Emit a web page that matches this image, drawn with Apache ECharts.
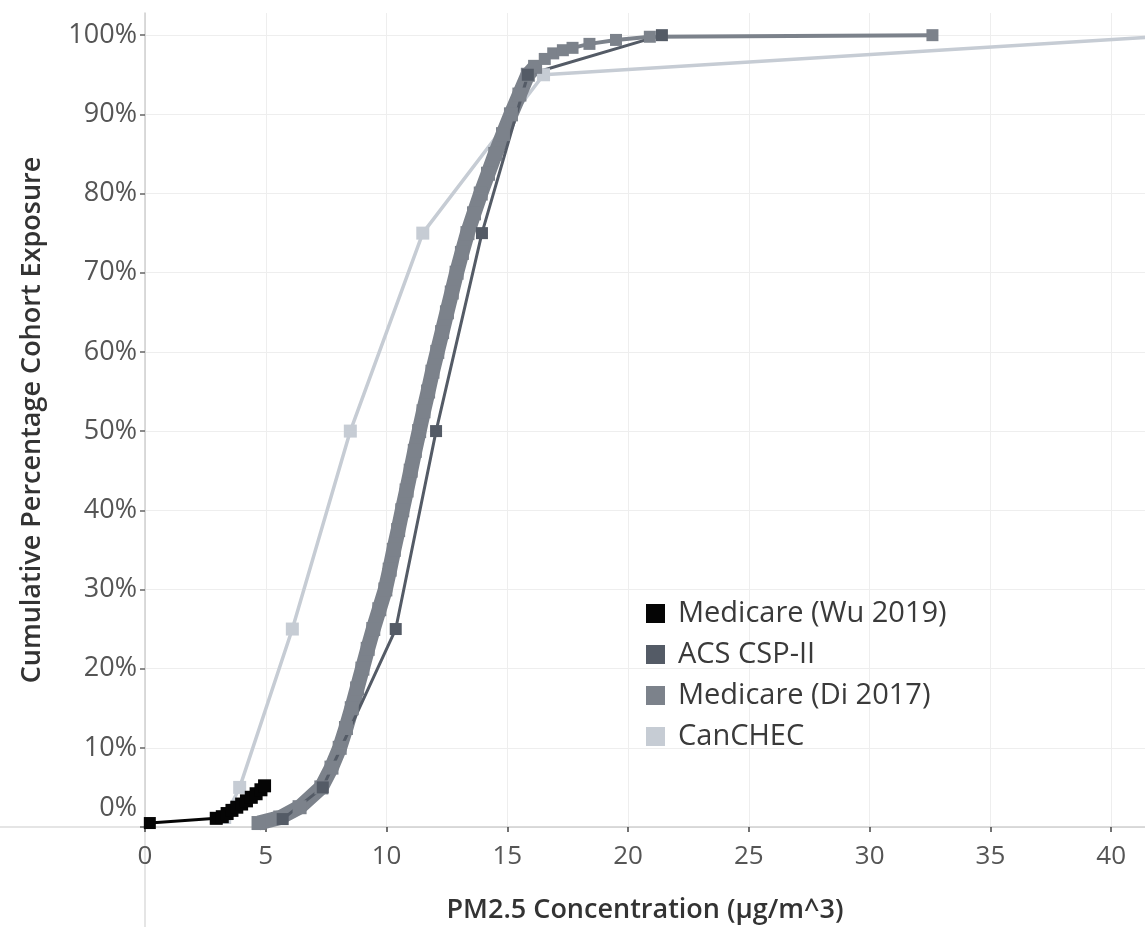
<!DOCTYPE html>
<html>
<head>
<meta charset="utf-8">
<title>Cumulative cohort exposure</title>
<script src="https://cdn.jsdelivr.net/npm/echarts@6/dist/echarts.min.js"></script>
<style>
  html, body { margin: 0; padding: 0; background: #fff; }
  #chart { width: 1145px; height: 927px; }
</style>
</head>
<body>
<div id="chart"></div>
<script>
// PM2.5 (x) and cumulative percent (y) for each cohort
const wuX = [0.2, 2.95, 3.2, 3.4, 3.6, 3.8, 4.0, 4.2, 4.4, 4.6, 4.8, 4.95];
const wuY = [0.5, 1.1, 1.3, 1.7, 2.1, 2.5, 2.9, 3.3, 3.75, 4.2, 4.7, 5.2];

const acsX = [5.7, 7.36, 10.38, 12.05, 13.95, 15.85, 21.4];
const acsY = [1.0, 5, 25, 50, 75, 95, 100];

// Di 2017: dense band part and upper tail
const diX = [4.7, 5.6, 6.4, 7.3, 7.72, 8.06, 8.32, 8.56, 8.78, 9.0, 9.22, 9.45, 9.7, 9.95,
  10.13, 10.3, 10.48, 10.65, 10.83, 11.0, 11.17, 11.35, 11.53, 11.72, 11.9, 12.1, 12.3,
  12.5, 12.7, 12.9, 13.12, 13.35, 13.62, 13.9, 14.2, 14.5, 14.82, 15.15, 15.5, 15.85, 16.15];
const diY = [0.5, 1.2, 2.5, 5, 7.5, 10, 12.5, 15, 17.5, 20, 22.5, 25, 27.5, 30,
  32.5, 35, 37.5, 40, 42.5, 45, 47.5, 50, 52.5, 55, 57.5, 60, 62.5,
  65, 67.5, 70, 72.5, 75, 77.5, 80, 82.5, 85, 87.5, 90, 92.5, 95, 96];
const diTailX = [15.85, 16.15, 16.55, 16.9, 17.3, 17.7, 18.4, 19.5, 20.9, 32.6];
const diTailY = [95, 96, 97, 97.7, 98.1, 98.4, 98.9, 99.4, 99.8, 100];

const canX = [3.3, 3.92, 6.1, 8.5, 11.5, 16.5, 43];
const canY = [1.2, 5, 25, 50, 75, 95, 100];

const legendNames = ['Medicare (Wu 2019)', 'ACS CSP-II', 'Medicare (Di 2017)', 'CanCHEC'];
const xTicks = [0, 5, 10, 15, 20, 25, 30, 35, 40];

const colWu = '#050505';
const colAcs = '#545b66';
const colDi = '#7c828b';
const colCan = '#c6ccd4';

const FONT = '"Open Sans", "Noto Sans", sans-serif';

function pairs(xs, ys) {
  return xs.map((x, i) => [x, ys[i]]);
}

function lineSeries(name, data, color, width, size) {
  return {
    name: name,
    type: 'line',
    data: data,
    symbol: 'rect',
    symbolSize: size,
    showSymbol: true,
    clip: true,
    itemStyle: { color: color },
    lineStyle: { color: color, width: width },
    emphasis: { disabled: true }
  };
}

const wuPts = pairs(wuX, wuY);

const chart = echarts.init(document.getElementById('chart'));

const option = {
  animation: false,
  backgroundColor: '#ffffff',
  grid: { left: 145, right: 0, top: 13, bottom: 100, containLabel: false, outerBoundsMode: 'none' },
  legend: {
    data: legendNames,
    orient: 'vertical',
    left: 641,
    top: 594,
    icon: 'rect',
    itemWidth: 19,
    itemHeight: 19,
    itemGap: 12,
    selectedMode: false,
    textStyle: { fontFamily: FONT, fontSize: 29, color: '#3a3a3a', padding: [0, 0, 0, 8] }
  },
  xAxis: {
    type: 'value',
    min: 0,
    max: 41.4,
    interval: 5,
    name: 'PM2.5 Concentration (µg/m^3)',
    nameLocation: 'middle',
    nameGap: 70,
    nameTextStyle: { fontFamily: FONT, fontSize: 27, fontWeight: 600, color: '#333' },
    axisLine: { show: true, onZero: false, lineStyle: { color: '#cfcfcf', width: 1.5 } },
    axisTick: { show: true, length: 5, lineStyle: { color: '#444', width: 1.5 } },
    axisLabel: {
      fontFamily: FONT,
      fontSize: 26,
      color: '#555',
      margin: 17,
      showMaxLabel: false,
      formatter: v => (xTicks.indexOf(v) >= 0 ? String(v) : '')
    },
    splitLine: { show: true, showMaxLine: false, lineStyle: { color: '#eeeeee', width: 1 } }
  },
  yAxis: {
    type: 'value',
    min: 0,
    max: 102.8,
    interval: 10,
    name: 'Cumulative Percentage Cohort Exposure',
    nameLocation: 'middle',
    nameGap: 99,
    nameTextStyle: { fontFamily: FONT, fontSize: 27, fontWeight: 600, color: '#333' },
    axisLine: { show: true, lineStyle: { color: '#cfcfcf', width: 1.5 } },
    axisTick: { show: true, length: 5, lineStyle: { color: '#666', width: 1.5 } },
    axisLabel: {
      fontFamily: FONT,
      fontSize: 27,
      color: '#555',
      margin: 8,
      showMaxLabel: false,
      formatter: v => {
        if (v > 100 || v % 10 !== 0) return '';
        if (v === 0) return '{z|0%}';
        return v + '%';
      },
      rich: {
        z: { fontFamily: FONT, fontSize: 27, color: '#555', padding: [0, 0, 38, 0] }
      }
    },
    splitLine: { show: true, showMaxLine: false, lineStyle: { color: '#eeeeee', width: 1 } }
  },
  graphic: [
    { type: 'line', shape: { x1: 0, y1: 827, x2: 145, y2: 827 }, style: { stroke: '#dcdcdc', lineWidth: 1.5 } },
    { type: 'line', shape: { x1: 145, y1: 827, x2: 145, y2: 927 }, style: { stroke: '#dcdcdc', lineWidth: 1.5 } }
  ],
  series: [
    lineSeries('CanCHEC', pairs(canX, canY), colCan, 3.5, 13),
    lineSeries('Medicare (Di 2017)', pairs(diX, diY), colDi, 15, 14),
    lineSeries('Medicare (Di 2017)', pairs(diTailX, diTailY), colDi, 4, 12),
    lineSeries('ACS CSP-II', pairs(acsX, acsY), colAcs, 3, 12),
    // Wu 2019: thin lead-in from the minimum, then the dense band of percentiles
    lineSeries('Medicare (Wu 2019)', wuPts.slice(0, 2), colWu, 3, 12),
    lineSeries('Medicare (Wu 2019)', wuPts.slice(1), colWu, 11, 13)
  ]
};

chart.setOption(option);
</script>
</body>
</html>
